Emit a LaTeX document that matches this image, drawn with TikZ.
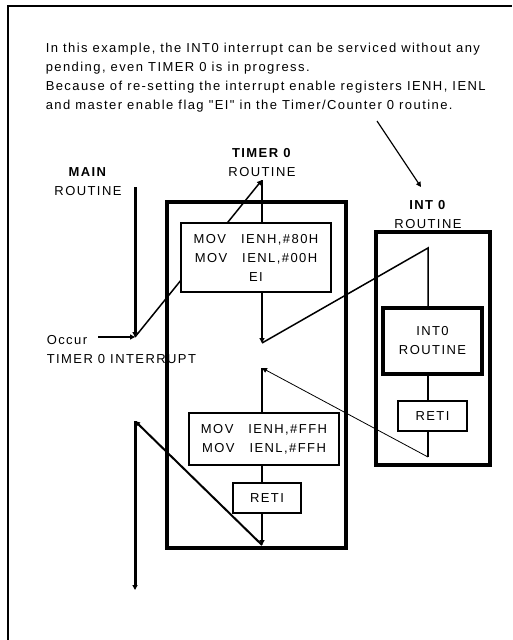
\documentclass[tikz,border=0pt]{standalone}
\usepackage{fontspec}
\setmainfont[LetterSpace=11, Ligatures=TeXOff]{Liberation Sans}
\usetikzlibrary{arrows.meta, positioning}
\newcommand{\movgap}{\hspace{15pt}}
\tikzset{
  every picture/.style={font=\fontsize{13}{19}\selectfont, line width=1.5pt},
  box/.style={draw, fill=white, align=center, inner sep=0pt, line width=1.7pt},
  bigbox/.style={draw, line width=4pt, inner sep=0pt},
  arrow/.style={-{Triangle[length=5pt, width=5pt]}},
  title/.style={align=center, inner sep=0pt},
  note/.style={align=left, inner sep=0pt},
}

\begin{document}
\begin{tikzpicture}[x=1pt, y=-1pt]
  \useasboundingbox (0,0) rectangle (512,640);
  \draw[line width=2pt] (8,640) -- (8,6) -- (512,6);
  \node[note, anchor=base west] (intro) at (45,109) {In this example, the INT0 interrupt can be serviced without any\\ pending, even TIMER 0 is in progress.\\ Because of re-setting the interrupt enable registers IENH, IENL\\ and master enable flag "EI" in the Timer/Counter 0 routine.};
  \coordinate (noteA) at (377,121);
  \coordinate (noteB) at (421,187);
  \draw[arrow, line width=1.2pt] (noteA) -- (noteB);
  \node[title, anchor=base] (mainT) at (88,195) {\textbf{MAIN}\\ ROUTINE};
  \node[title, anchor=base] (t0T) at (262,176) {\textbf{TIMER 0}\\ ROUTINE};
  \node[title, anchor=base] (i0T) at (428,228) {\textbf{INT 0}\\ ROUTINE};
  \node[bigbox, minimum width=179pt, minimum height=346pt] (t0box) at (256.5,375) {};
  \node[bigbox, minimum width=114pt, minimum height=233pt] (i0box) at (433,348.5) {};
  \coordinate (mainTop) at (135,187);
  \coordinate (occur) at (135,337);
  \coordinate (occurL) at (98,337);
  \draw[arrow, line width=3pt] (mainTop) -- (occur);
  \draw[arrow, line width=2pt] (occurL) -- (occur);
  \node[note, anchor=base west] (occurT) at (46,363) {Occur\\ TIMER 0 INTERRUPT};
  \coordinate (t0top) at (262,180);
  \draw[arrow] (occur) -- (t0top);
  \node[box, minimum width=150pt, minimum height=69pt] (code1) at (256,257.5) {MOV\movgap IENH,\#80H\\ MOV\movgap IENL,\#00H\\ EI};
  \draw (t0top) -- (t0top |- code1.north);
  \coordinate (t0stop) at (262,343);
  \draw[arrow] (code1.south -| t0stop) -- (t0stop);
  \coordinate (i0top) at (428,248);
  \node[box, line width=4pt, minimum width=99pt, minimum height=66pt] (i0rt) at (432.5,341) {INT0\\ ROUTINE};
  \node[box, minimum width=69pt, minimum height=30pt, below=24pt of i0rt] (i0reti) {RETI};
  \coordinate (i0end) at (428,457);
  \draw (t0stop) -- (i0top) -- (i0top |- i0rt.north);
  \draw (i0top |- i0rt.south) -- (i0top |- i0reti.north);
  \draw (i0top |- i0reti.south) -- (i0end);
  \coordinate (t0resume) at (262,368);
  \draw[arrow, line width=0.8pt] (i0end) -- (t0resume);
  \node[box, minimum width=150pt, minimum height=52pt] (code2) at (264,439) {MOV\movgap IENH,\#FFH\\ MOV\movgap IENL,\#FFH};
  \draw (t0resume) -- (t0resume |- code2.north);
  \node[box, minimum width=68pt, minimum height=30pt, below=16pt of code2, xshift=3pt] (t0reti) {RETI};
  \coordinate (t0end) at (262,545);
  \draw (t0resume |- code2.south) -- (t0resume |- t0reti.north);
  \draw[arrow] (t0resume |- t0reti.south) -- (t0end);
  \coordinate (mainResume) at (135,421);
  \coordinate (mainEnd) at (135,590);
  \draw[arrow, line width=2pt] (t0end) -- (mainResume);
  \draw[arrow, line width=3pt] (mainResume) -- (mainEnd);
\end{tikzpicture}
\end{document}
